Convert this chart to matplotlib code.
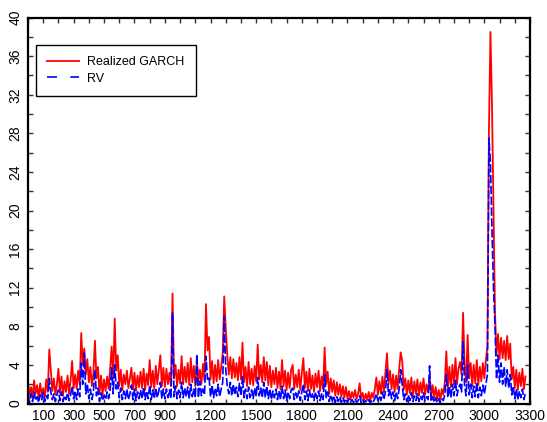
import numpy as np
import matplotlib
matplotlib.use("Agg")
import matplotlib.pyplot as plt
from matplotlib.lines import Line2D

plt.rcParams['font.family'] = ['Liberation Sans', 'DejaVu Sans']

# time index step (observations)
step = 10

realized_garch = [
    2.3, 0.8, 1.7, 0.6, 2.4, 1.0, 1.9, 0.5, 2.1, 0.9, 1.6, 0.6, 2.5, 1.2, 5.6,
    3.4, 1.3, 2.6, 0.9, 2.0, 3.6, 1.1, 2.8, 0.8, 2.3, 1.2, 2.9, 1.0, 2.4, 4.4,
    1.6, 3.0, 1.5, 3.4, 2.0, 7.3, 4.0, 5.7, 3.0, 4.6, 2.2, 3.8, 1.8, 3.2, 6.5,
    2.6, 3.8, 1.0, 2.9, 0.9, 2.5, 1.3, 2.8, 1.5, 3.6, 5.9, 2.6, 8.8, 3.4, 5.0,
    1.8, 3.5, 1.4, 3.0, 2.0, 3.4, 1.6, 2.6, 3.7, 1.5, 3.2, 1.3, 2.9, 1.7, 3.3,
    1.6, 3.6, 1.4, 3.1, 1.9, 4.5, 1.7, 3.4, 1.5, 3.9, 2.0, 3.5, 5.0, 1.8, 3.7,
    1.7, 3.6, 2.0, 3.2, 1.8, 11.4, 2.6, 4.0, 1.8, 3.5, 2.1, 4.9, 2.0, 3.8, 2.2,
    4.2, 1.9, 4.7, 2.2, 3.9, 1.8, 4.4, 2.3, 3.5, 2.0, 4.1, 2.4, 10.3, 5.5, 6.9,
    2.5, 4.4, 2.1, 4.0, 2.3, 4.5, 2.5, 3.8, 5.2, 11.1, 7.8, 5.0, 3.0, 4.8, 2.6,
    4.6, 2.7, 4.2, 2.4, 4.8, 2.5, 6.3, 2.2, 3.8, 1.8, 4.3, 2.0, 3.6, 1.9, 3.9,
    2.3, 6.1, 2.5, 4.0, 2.2, 4.8, 2.4, 4.3, 1.9, 3.9, 1.7, 3.4, 2.0, 3.7, 1.6,
    3.3, 1.5, 4.5, 1.8, 3.4, 1.4, 3.2, 1.6, 3.5, 4.0, 1.5, 3.0, 1.7, 3.5, 1.4,
    3.2, 4.7, 1.6, 3.3, 1.3, 3.6, 1.5, 2.9, 1.2, 3.1, 1.7, 3.4, 1.3, 2.8, 1.5,
    5.8, 2.0, 3.3, 1.0, 2.6, 1.2, 2.4, 0.8, 2.2, 0.9, 2.0, 0.7, 1.8, 0.6, 1.7,
    0.5, 1.3, 0.4, 1.2, 0.6, 1.4, 0.5, 1.0, 2.1, 0.5, 1.1, 0.3, 1.0, 0.4, 1.2,
    0.3, 1.1, 0.6, 1.5, 2.7, 0.9, 2.3, 1.0, 2.8, 1.2, 3.3, 5.2, 2.0, 3.4, 1.5,
    3.0, 1.2, 2.9, 1.5, 3.6, 5.3, 4.4, 1.4, 2.6, 0.9, 2.4, 1.1, 2.7, 0.8, 2.3,
    1.0, 2.5, 0.8, 2.2, 1.1, 2.6, 0.9, 2.0, 1.2, 2.8, 0.7, 1.9, 0.6, 1.7, 0.5,
    1.4, 0.3, 1.5, 0.9, 2.2, 5.4, 1.6, 3.8, 1.7, 4.0, 2.0, 4.7, 2.0, 3.6, 4.3,
    3.0, 9.4, 4.0, 2.2, 7.1, 2.6, 4.2, 1.8, 4.0, 2.1, 4.5, 1.9, 3.8, 2.3, 4.2,
    2.6, 4.5, 5.9, 28.3, 38.5, 31.0, 20.0, 9.4, 5.0, 7.2, 4.6, 6.8, 4.7, 6.5, 4.5,
    7.0, 4.6, 6.2, 2.5, 3.8, 1.6, 3.5, 1.4, 3.2, 1.8, 3.6, 1.5, 2.8,
]

rv = [
    0.8, 0.1, 1.0, 0.2, 1.2, 0.3, 0.7, 0.1, 0.9, 0.4, 1.1, 0.2, 0.8, 0.5, 2.6,
    1.2, 0.4, 1.0, 0.2, 0.9, 1.4, 0.3, 1.2, 0.2, 0.8, 0.4, 1.1, 0.3, 0.9, 1.8,
    0.5, 1.3, 0.4, 1.5, 0.7, 4.2, 2.0, 5.2, 1.0, 2.0, 0.5, 1.5, 0.4, 1.2, 3.5,
    0.8, 1.6, 0.2, 1.1, 0.3, 0.9, 0.4, 1.2, 0.5, 1.4, 3.7, 1.0, 4.0, 1.5, 2.2,
    0.6, 1.6, 0.4, 1.3, 0.5, 1.5, 0.4, 1.0, 1.9, 0.4, 1.5, 0.3, 1.2, 0.5, 1.4,
    0.5, 1.7, 0.4, 1.3, 0.5, 1.9, 0.4, 1.4, 0.5, 1.6, 0.6, 1.3, 2.2, 0.5, 1.5,
    0.5, 1.5, 0.6, 1.4, 0.5, 9.4, 0.7, 1.8, 0.5, 1.4, 0.6, 2.2, 0.6, 1.6, 0.7,
    1.7, 0.5, 2.0, 0.7, 1.5, 0.6, 5.1, 0.6, 2.3, 0.8, 1.5, 0.9, 4.9, 2.5, 2.8,
    0.7, 1.9, 0.6, 1.6, 0.8, 2.0, 0.7, 1.5, 2.2, 9.0, 3.5, 1.8, 1.0, 2.2, 0.8,
    2.0, 0.9, 1.7, 0.7, 2.1, 0.8, 2.8, 0.6, 1.5, 0.5, 1.7, 0.6, 1.4, 0.5, 1.6,
    0.7, 2.7, 0.8, 1.6, 0.6, 2.2, 0.6, 1.8, 0.5, 1.5, 0.4, 1.3, 0.6, 1.5, 0.4,
    1.3, 0.4, 1.8, 0.5, 1.4, 0.3, 1.2, 0.5, 1.4, 1.6, 0.4, 1.1, 0.5, 1.3, 0.3,
    1.2, 2.0, 0.4, 1.3, 0.3, 1.4, 0.5, 1.0, 0.3, 1.2, 0.5, 1.3, 0.3, 1.0, 0.4,
    3.0, 0.6, 1.2, 0.2, 0.9, 0.3, 0.8, 0.1, 0.7, 0.2, 0.7, 0.1, 0.6, 0.1, 0.5,
    0.1, 0.5, 0.1, 0.4, 0.1, 0.5, 0.1, 0.3, 0.8, 0.1, 0.4, 0.05, 0.3, 0.1, 0.4,
    0.05, 0.4, 0.2, 0.5, 1.0, 0.3, 0.8, 0.3, 1.2, 0.4, 1.3, 3.5, 0.8, 1.5, 0.5,
    1.2, 0.3, 1.2, 0.5, 1.5, 3.5, 2.0, 0.4, 1.0, 0.2, 0.9, 0.3, 1.1, 0.2, 0.8,
    0.3, 1.0, 0.2, 0.8, 0.4, 1.1, 0.3, 0.7, 0.4, 3.9, 0.2, 0.7, 0.1, 0.6, 0.1,
    0.5, 0.05, 0.5, 0.3, 0.9, 3.0, 0.6, 1.8, 0.6, 2.0, 0.8, 2.4, 0.8, 1.6, 2.0,
    1.2, 6.4, 1.8, 0.8, 4.0, 0.9, 2.0, 0.6, 1.8, 0.7, 2.2, 0.6, 1.7, 0.8, 1.9,
    1.0, 2.0, 3.0, 27.5, 25.0, 18.0, 12.0, 8.0, 2.5, 5.0, 2.2, 4.2, 2.0, 3.8, 1.8,
    3.5, 1.6, 3.0, 0.9, 1.8, 0.5, 1.5, 0.4, 1.3, 0.6, 1.5, 0.4, 1.1,
]

xtick_labels = [100, 300, 500, 700, 900, 1200, 1500, 1800, 2100, 2400, 2700, 3000, 3300]
ytick_labels = [0, 4, 8, 12, 16, 20, 24, 28, 32, 36, 40]

t = np.arange(len(realized_garch)) * step

fig = plt.figure(figsize=(5.47, 4.22), dpi=100)
ax = fig.add_axes([28/547, 18.5/422, (530-28)/547, (403.5-17.5)/422])

ax.plot(t, realized_garch, color='#ff0000', lw=1.3)
ax.plot(t, rv, color='#0000ff', lw=1.2, dashes=(5, 1.5))

ax.set_xlim(0, 3300)
ax.set_ylim(0, 40)

ax.set_xticks(np.arange(0, 3301, 100), minor=True)
ax.set_xticks(xtick_labels)
ax.set_xticklabels([str(v) for v in xtick_labels], fontsize=10)
ax.set_yticks(np.arange(0, 41, 2), minor=True)
ax.set_yticks(ytick_labels)
ax.set_yticklabels([str(v) for v in ytick_labels], fontsize=10, rotation=90, va='center')

ax.tick_params(which='both', direction='in', top=True, right=True, length=3.5, width=1.0, color='#333333')
ax.tick_params(axis='x', pad=4)
ax.tick_params(axis='y', pad=4)
for s in ax.spines.values():
    s.set_linewidth(1.6)

handles = [Line2D([], [], color='#ff0000', lw=1.3),
           Line2D([], [], color='#0000ff', lw=1.2, dashes=(6, 8))]
leg = ax.legend(handles, ['Realized GARCH', 'RV'], loc='upper left',
                bbox_to_anchor=(8/502, 0.929), borderaxespad=0,
                fontsize=9, fancybox=False, framealpha=1, edgecolor='black',
                handlelength=2.5, borderpad=0.9, labelspacing=0.35, handletextpad=0.7)
leg.get_frame().set_linewidth(1.0)

fig.savefig('out.png', dpi=100)
